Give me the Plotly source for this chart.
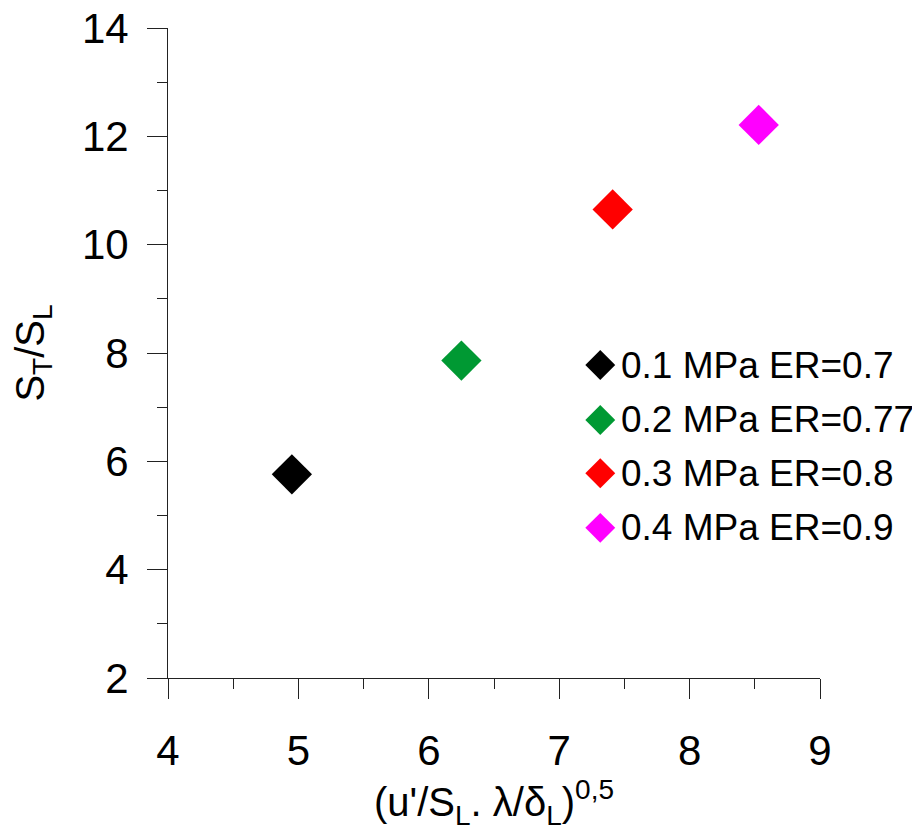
import plotly.graph_objects as go

# Data
labels = ["0.1 MPa ER=0.7", "0.2 MPa ER=0.77", "0.3 MPa ER=0.8", "0.4 MPa ER=0.9"]
x_vals = [4.95, 6.25, 7.41, 8.53]
y_vals = [5.76, 7.86, 10.65, 12.21]
colors = ["#000000", "#009933", "#FF0000", "#FF00FF"]

FONT = "Liberation Sans, Arial, sans-serif"

fig = go.Figure()

for lab, xv, yv, c in zip(labels, x_vals, y_vals, colors):
    fig.add_trace(go.Scatter(
        x=[xv], y=[yv], mode="markers", name=lab, showlegend=False,
        marker=dict(symbol="diamond", size=31, color=c, line=dict(width=0)),
        xaxis="x", yaxis="y",
    ))

# Custom legend drawn on an overlay axis (0..1 coordinates)
leg_x = 0.663
leg_y = [0.4815, 0.397, 0.315, 0.231]
for lab, c, ly in zip(labels, colors, leg_y):
    fig.add_trace(go.Scatter(
        x=[leg_x], y=[ly], mode="markers", showlegend=False,
        marker=dict(symbol="diamond", size=23, color=c, line=dict(width=0)),
        xaxis="x2", yaxis="y2", hoverinfo="skip",
    ))
    fig.add_annotation(
        x=leg_x, y=ly, xref="x2", yref="y2", text=lab, showarrow=False,
        xanchor="left", yanchor="middle", xshift=19,
        font=dict(size=37, color="#000000", family=FONT),
    )

axis_col = "#222222"

fig.update_layout(
    width=920, height=827,
    margin=dict(l=160, r=107.5, t=20, b=157, autoexpand=False),
    paper_bgcolor="white", plot_bgcolor="white",
    font=dict(family=FONT, color="#000000"),
    xaxis=dict(
        range=[4, 9], tickvals=[4, 5, 6, 7, 8, 9], ticks="outside", ticklen=20, tickwidth=1,
        tickcolor=axis_col, showline=True, linecolor=axis_col, linewidth=1,
        showgrid=False, zeroline=False, tickfont=dict(size=42, family=FONT),
        ticklabelstandoff=16, ticklabeloverflow="allow",
        minor=dict(dtick=0.5, ticks="outside", ticklen=10, tickcolor=axis_col, showgrid=False),
        title=dict(text="(u'/S<sub>L</sub>. λ/δ<sub>L</sub>)<sup>0,5</sup>",
                   font=dict(size=40, family=FONT), standoff=8),
        automargin=False,
    ),
    yaxis=dict(
        range=[2, 14], tickvals=[2, 4, 6, 8, 10, 12, 14], ticks="outside", ticklen=20, tickwidth=1,
        tickcolor=axis_col, showline=True, linecolor=axis_col, linewidth=1,
        showgrid=False, zeroline=False, tickfont=dict(size=42, family=FONT),
        ticklabelstandoff=10, ticklabeloverflow="allow",
        minor=dict(dtick=1, ticks="outside", ticklen=10, tickcolor=axis_col, showgrid=False),
        title=dict(text="S<sub>T</sub>/S<sub>L</sub>", font=dict(size=40, family=FONT), standoff=30),
        automargin=False,
    ),
    xaxis2=dict(range=[0, 1], overlaying="x", visible=False, fixedrange=True),
    yaxis2=dict(range=[0, 1], overlaying="y", visible=False, fixedrange=True),
    showlegend=False,
)

# Axis line extensions past the origin (Excel-style crossing)
fig.add_shape(type="line", xref="x", yref="y", xsizemode="pixel", xanchor=4,
              x0=-20, x1=0, y0=2, y1=2, line=dict(color=axis_col, width=1))
fig.add_shape(type="line", xref="x", yref="y", ysizemode="pixel", yanchor=2,
              x0=4, x1=4, y0=-20, y1=0, line=dict(color=axis_col, width=1))

fig.write_html("out.html")
